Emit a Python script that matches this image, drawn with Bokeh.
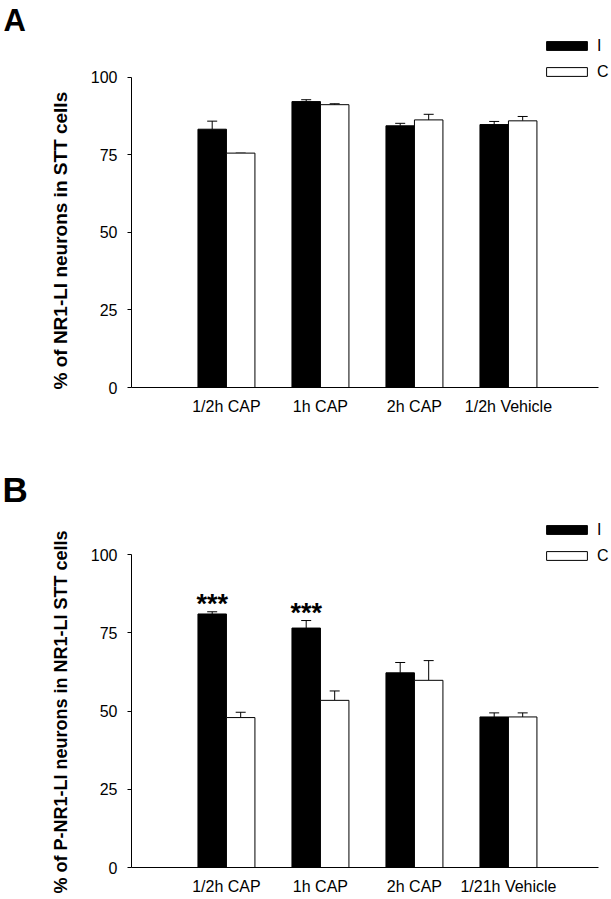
from bokeh.plotting import figure
from bokeh.models import (Range1d, FixedTicker, Legend, LegendItem, Title,
                          Whisker, TeeHead, ColumnDataSource)
from bokeh.layouts import column
from bokeh.embed import file_html
from bokeh.resources import INLINE
from bokeh.core.properties import value

# ---------------- data ----------------
groups = [1, 2, 3, 4]
labels_A = ["1/2h CAP", "1h CAP", "2h CAP", "1/2h Vehicle"]
labels_B = ["1/2h CAP", "1h CAP", "2h CAP", "1/21h Vehicle"]
y_ticks = [0, 25, 50, 75, 100]

A_I = [83.2, 92.1, 84.3, 84.7]
A_I_err = [2.6, 0.6, 0.8, 1.0]
A_C = [75.5, 91.1, 86.2, 85.9]
A_C_err = [0.0, 0.3, 1.8, 1.4]

B_I = [81.0, 76.5, 62.2, 48.1]
B_I_err = [0.7, 2.4, 3.3, 1.3]
B_C = [47.9, 53.4, 59.8, 48.1]
B_C_err = [1.7, 3.0, 6.3, 1.3]
B_stars = ["***", "***", "", ""]

ylabel_A = "% of NR1-LI neurons in STT cells"
ylabel_B = "% of P-NR1-LI neurons  in NR1-LI STT cells"

FONT = "Liberation Sans"
FIG_W = 611
BORDER_L = 131
FRAME_W = FIG_W - BORDER_L          # frame runs to the right edge
PX_PER_X = 94.0
X0 = -0.01
X_AXIS_END = 4.958                  # visible end of the x axis line
X1 = X0 + FRAME_W / PX_PER_X
BAR_W = 0.303


def panel(letter, letter_size, letter_offset, letter_standoff, xlabels,
          ylabel, ylabel_size, ylabel_offset, I, Ierr, C, Cerr, stars,
          height, frame_top, y100, y0, legend_vy):
    bottom = height - y0
    frame_h = y0 - frame_top
    px_per_unit = (y0 - y100) / 100.0
    ytop = frame_h / px_per_unit
    p = figure(width=FIG_W, height=height, output_backend="svg",
               toolbar_location=None, min_border_left=BORDER_L,
               min_border_right=0,
               min_border_top=frame_top, min_border_bottom=bottom,
               x_range=Range1d(X0, X1), y_range=Range1d(0, ytop))
    p.outline_line_color = None
    p.xgrid.visible = False
    p.ygrid.visible = False
    p.background_fill_color = "white"
    p.border_fill_color = "white"

    xi = [g - BAR_W / 2 for g in groups]
    xc = [g + BAR_W / 2 for g in groups]
    rI = p.vbar(x=xi, top=I, width=BAR_W, bottom=0, fill_color="black",
                line_color="black", line_width=1)
    rC = p.vbar(x=xc, top=C, width=BAR_W, bottom=0, fill_color="white",
                line_color="black", line_width=1)

    for xs, vals, errs in ((xi, I, Ierr), (xc, C, Cerr)):
        src = ColumnDataSource(dict(x=xs, lo=vals,
                                    hi=[v + e for v, e in zip(vals, errs)]))
        w = Whisker(base="x", upper="hi", lower="lo", source=src,
                    line_color="black", line_width=1,
                    upper_head=TeeHead(size=10, line_color="black", line_width=1),
                    lower_head=None)
        p.add_layout(w)

    if stars is not None:
        sx = [x for x, s in zip(xi, stars) if s]
        sy = [v + e for v, e, s in zip(I, Ierr, stars) if s]
        st = [s for s in stars if s]
        p.text(x=sx, y=sy, text=st, text_font=value(FONT),
               text_font_size="27px", text_font_style="bold",
               text_align="center", text_baseline="alphabetic", y_offset=-8,
               text_color="black")

    # y axis
    p.yaxis.bounds = (0, 100)
    p.yaxis.ticker = FixedTicker(ticks=y_ticks)
    p.yaxis.major_tick_out = 4
    p.yaxis.major_tick_in = 0
    p.yaxis.minor_tick_line_color = None
    p.yaxis.major_label_standoff = 10
    p.yaxis.major_label_text_font = FONT
    p.yaxis.major_label_text_font_size = "16px"
    p.yaxis.major_label_text_color = "black"
    p.yaxis.axis_line_color = "black"
    p.yaxis.major_tick_line_color = "black"

    # x axis
    p.xaxis.bounds = (X0, X_AXIS_END)
    p.xaxis.ticker = FixedTicker(ticks=groups)
    p.xaxis.major_label_overrides = {g: l for g, l in zip(groups, xlabels)}
    p.xaxis.major_tick_line_color = None
    p.xaxis.minor_tick_line_color = None
    p.xaxis.major_tick_out = 0
    p.xaxis.major_tick_in = 0
    p.xaxis.major_label_standoff = 10
    p.xaxis.major_label_text_font = FONT
    p.xaxis.major_label_text_font_size = "16px"
    p.xaxis.major_label_text_color = "black"
    p.xaxis.axis_line_color = "black"

    legend = Legend(items=[LegendItem(label="I", renderers=[rI]),
                           LegendItem(label="C", renderers=[rC])],
                    location=(410, legend_vy), orientation="vertical",
                    glyph_width=51, glyph_height=11, label_height=18,
                    label_standoff=5, spacing=8, padding=0, margin=0,
                    border_line_color=None, background_fill_alpha=0,
                    label_text_font=FONT, label_text_font_size="16px",
                    label_text_color="black")
    p.add_layout(legend, "center")

    # y label as a left-side title anchored at the frame bottom
    p.add_layout(Title(text=ylabel, align="left", offset=ylabel_offset,
                       text_font=FONT, text_font_size=ylabel_size,
                       text_font_style="bold", text_color="black",
                       standoff=33), "left")

    # panel letter
    p.add_layout(Title(text=letter, align="left", offset=letter_offset,
                       text_font=FONT, text_font_size=letter_size,
                       text_font_style="bold", text_color="black",
                       standoff=letter_standoff), "above")
    return p


pA = panel("A", "31px", -128, 1, labels_A, ylabel_A, "19px", -2,
           A_I, A_I_err, A_C, A_C_err, None,
           height=440, frame_top=34, y100=73, y0=387, legend_vy=306.5)
pB = panel("B", "35px", -129, 3, labels_B, ylabel_B, "18px", -26,
           B_I, B_I_err, B_C, B_C_err, B_stars,
           height=459, frame_top=70, y100=114, y0=427, legend_vy=302.5)

layout = column(pA, pB, spacing=0)
open("out.html", "w").write(file_html(layout, INLINE))
